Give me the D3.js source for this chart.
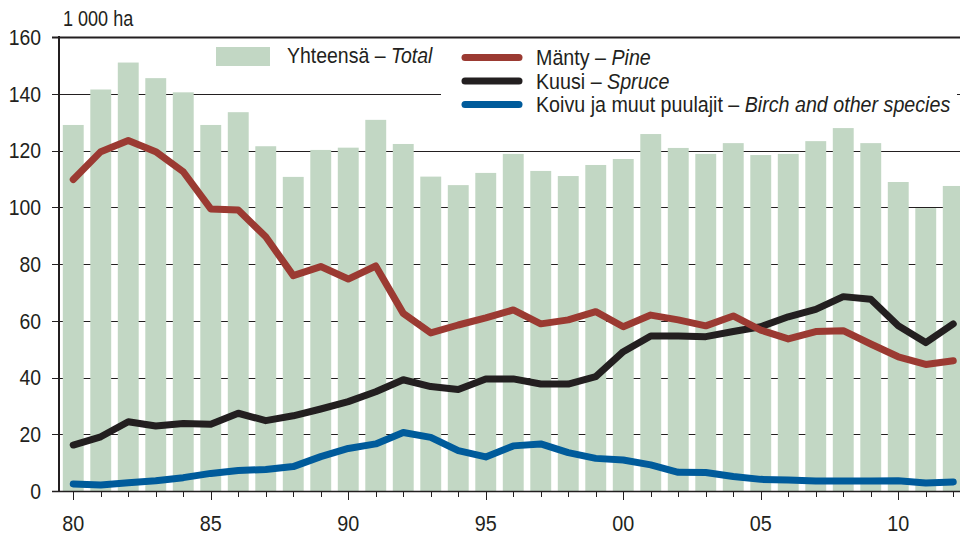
<!DOCTYPE html>
<html>
<head>
<meta charset="utf-8">
<script src="https://cdn.jsdelivr.net/npm/d3@7"></script>
<style>
  body { margin: 0; background: #fff; }
  svg { display: block; font-family: "Liberation Sans", Arial, sans-serif; }
</style>
</head>
<body>
<div id="ChartDiv"></div>
<script>
// years 1980 - 2012
var years = d3.range(1980, 2013);

// Yhteensä - Total (bars)
var total = [129, 141.5, 151, 145.5, 140.5, 129, 133.5, 121.5, 110.7, 120.2, 121, 130.8, 122.3, 110.8, 107.8, 112.1,
    118.8, 112.8, 111, 114.9, 117, 125.8, 120.9, 118.8, 122.6, 118.4, 118.8, 123.3, 127.9, 122.6, 108.9, 99.7, 107.5];

// Mänty - Pine
var pine = [109.8, 119.6, 123.5, 119.6, 112.5, 99.4, 99, 89.6, 75.9, 79.1, 74.7, 79.3, 62.6, 55.7, 58.5, 61,
    63.8, 58.9, 60.3, 63.2, 57.9, 62, 60.3, 58.2, 61.7, 56.7, 53.6, 56.2, 56.5, 51.8, 47.3, 44.6, 45.9];

// Kuusi - Spruce
var spruce = [16.2, 19.1, 24.4, 22.9, 23.8, 23.5, 27.4, 24.8, 26.5, 28.9, 31.5, 35, 39.2, 36.8, 35.8, 39.5,
    39.5, 37.7, 37.7, 40.3, 49.1, 54.6, 54.6, 54.4, 56.2, 57.9, 61.4, 64, 68.5, 67.6, 58.2, 52.3, 58.9];

// Koivu ja muut puulajit - Birch and other species
var birch = [2.5, 2.1, 2.9, 3.6, 4.7, 6.2, 7.2, 7.6, 8.6, 12.1, 15, 16.6, 20.6, 18.9, 14.2, 12,
    15.9, 16.6, 13.5, 11.5, 10.9, 9.2, 6.6, 6.5, 5.1, 4.1, 3.9, 3.5, 3.5, 3.5, 3.6, 2.8, 3.2];

var yTicks = [0, 20, 40, 60, 80, 100, 120, 140, 160];
var xLabelYears = [1980, 1985, 1990, 1995, 2000, 2005, 2010];

//The original uses a narrow font, so text is squeezed sideways
function narrowText(parent, x, y, sx, size) {
    return parent.append("g")
        .attr("transform", "translate(" + x + "," + y + ")scale(" + sx + ",1)")
        .append("text")
        .style("font-size", size + "px")
        .style("fill", "#231f20");
}

function drawChart() {

    var width = 960;
    var height = 537;

    var left = 59.5;
    var top = 37;
    var bottom = 491;

    var svg = d3.select('#ChartDiv').append('svg')
        .attr('width', width)
        .attr('height', height);

    //33 bands, the outer padding keeps the step exactly (range / 33)
    var x_scale = d3.scaleBand()
        .domain(years)
        .range([left, left + 27.5 * years.length])
        .paddingInner(0.24)
        .paddingOuter(0.12);

    var y_scale = d3.scaleLinear()
        .domain([0, 160])
        .range([bottom, top]);

    function xc(yr) {
        return x_scale(yr) + x_scale.bandwidth() / 2;
    }

    //Gridlines behind the bars
    svg.append("g")
        .selectAll("line")
        .data(yTicks.filter(function(d) { return d > 0; }))
        .enter().append("line")
        .attr("x1", 52)
        .attr("x2", width)
        .attr("y1", function(d) { return Math.round(y_scale(d)) + 0.5; })
        .attr("y2", function(d) { return Math.round(y_scale(d)) + 0.5; })
        .style("stroke", "#231f20")
        .style("stroke-width", function(d) { return d == 160 ? 2 : 1; });

    //Total bars
    svg.append("g")
        .selectAll("rect")
        .data(years)
        .enter().append("rect")
        .attr("x", function(d) { return x_scale(d); })
        .attr("width", x_scale.bandwidth())
        .attr("y", function(d, i) { return y_scale(total[i]); })
        .attr("height", function(d, i) { return bottom - y_scale(total[i]); })
        .style("fill", "#c2d7c4");

    //White box behind the line legend, hides the 140 gridline there
    svg.append("rect")
        .attr("x", 441)
        .attr("y", 39)
        .attr("width", 516)
        .attr("height", 78)
        .style("fill", "#fff");

    //Lines
    var series = [
        { values: birch, color: "#005b9b" },
        { values: spruce, color: "#231f20" },
        { values: pine, color: "#9b3a32" }
    ];

    var line = d3.line()
        .x(function(d, i) { return xc(years[i]); })
        .y(function(d) { return y_scale(d); });

    series.forEach(function(s) {
        svg.append("path")
            .datum(s.values)
            .attr("d", line)
            .style("fill", "none")
            .style("stroke", s.color)
            .style("stroke-width", 7)
            .style("stroke-linejoin", "round")
            .style("stroke-linecap", "round");
    });

    //Y axis
    svg.append("line")
        .attr("x1", 59).attr("x2", 59)
        .attr("y1", top - 1).attr("y2", bottom + 1)
        .style("stroke", "#231f20")
        .style("stroke-width", 2);

    yTicks.forEach(function(d) {
        narrowText(svg, 41, y_scale(d), 0.88, 22)
            .attr("dy", "0.36em")
            .attr("text-anchor", "end")
            .text(d);
    });

    //X axis
    svg.append("line")
        .attr("x1", 52).attr("x2", width)
        .attr("y1", bottom + 0.5).attr("y2", bottom + 0.5)
        .style("stroke", "#231f20")
        .style("stroke-width", 1.5);

    svg.append("g")
        .selectAll("line")
        .data(years)
        .enter().append("line")
        .attr("x1", function(d) { return Math.round(xc(d)) + 0.5; })
        .attr("x2", function(d) { return Math.round(xc(d)) + 0.5; })
        .attr("y1", bottom)
        .attr("y2", function(d) { return xLabelYears.indexOf(d) >= 0 ? bottom + 9 : bottom + 6; })
        .style("stroke", "#231f20")
        .style("stroke-width", 1);

    xLabelYears.forEach(function(d) {
        narrowText(svg, xc(d), 531, 0.9, 22)
            .attr("text-anchor", "middle")
            .text(String(d).slice(2));
    });

    //Unit label
    narrowText(svg, 63, 26, 0.82, 22).text("1 000 ha");

    //Legend - bars
    svg.append("rect")
        .attr("x", 216)
        .attr("y", 47)
        .attr("width", 54)
        .attr("height", 19)
        .style("fill", "#c2d7c4");

    var t = narrowText(svg, 287, 63, 0.885, 22);
    t.append("tspan").text("Yhteensä – ");
    t.append("tspan").style("font-style", "italic").text("Total");

    //Legend - lines
    var legendItems = [
        { fi: "Mänty – ", en: "Pine", color: "#9b3a32" },
        { fi: "Kuusi – ", en: "Spruce", color: "#231f20" },
        { fi: "Koivu ja muut puulajit – ", en: "Birch and other species", color: "#005b9b" }
    ];

    legendItems.forEach(function(d, i) {
        var ly = 57.5 + i * 23.5;
        svg.append("line")
            .attr("x1", 465)
            .attr("x2", 519)
            .attr("y1", ly)
            .attr("y2", ly)
            .style("stroke", d.color)
            .style("stroke-width", 7)
            .style("stroke-linecap", "round");

        var lt = narrowText(svg, 536, ly + 7.5, 0.894, 22);
        lt.append("tspan").text(d.fi);
        lt.append("tspan").style("font-style", "italic").text(d.en);
    });
}

drawChart();
</script>
</body>
</html>
